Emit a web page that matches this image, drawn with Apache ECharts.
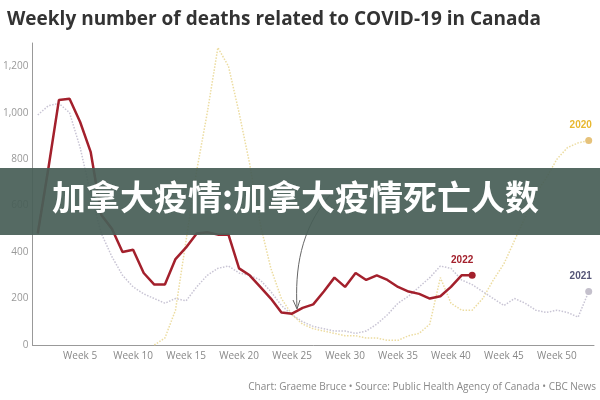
<!DOCTYPE html><html><head><meta charset="utf-8"><script src="https://cdn.jsdelivr.net/npm/echarts@6/dist/echarts.min.js"></script>
<style>html,body{margin:0;background:#fff}#c{width:600px;height:400px}</style></head><body><div id="c"></div><script>
const weeks = Array.from({length:53},(_, i)=>'Week '+(i+1));
const yTicks = [0,200,400,600,800,1000,1200];
const d2022 = [480,760,1055,1060,960,830,560,500,400,410,310,260,260,370,420,480,485,475,475,330,300,250,200,140,135,160,175,230,290,250,310,280,300,280,250,230,220,200,210,250,300,300];
const d2021 = [990,1030,1040,1000,850,650,480,380,300,250,220,200,180,200,190,250,300,330,340,310,300,280,230,170,130,100,80,70,60,60,50,60,90,130,180,210,250,290,340,330,280,260,230,200,170,200,180,150,140,150,140,120,230];
const d2020 = [null,null,null,null,null,null,null,null,null,null,null,0,30,150,450,750,1000,1280,1200,1000,780,520,330,200,130,90,70,60,50,40,40,30,30,20,20,40,50,90,290,180,150,150,200,280,350,450,550,650,720,800,850,870,880];
const ch=echarts.init(document.getElementById('c'));
ch.setOption({
 animation:false,
 title:{text:'Weekly number of deaths related to COVID-19 in Canada',left:2,top:5,textStyle:{fontSize:19,fontWeight:'bold',color:'#333',fontFamily:'Open Sans'}},
 grid:{left:30,right:6,top:43,bottom:55},
 xAxis:{type:'category',data:weeks,axisLine:{lineStyle:{color:'#999'}},axisTick:{show:false},
  axisLabel:{interval:(i)=>(i+1)%5===0,color:'#888',fontSize:10,fontFamily:'Open Sans',margin:6}},
 yAxis:{type:'value',min:0,max:1300,interval:200,splitLine:{show:false},axisLine:{show:true,lineStyle:{color:'#999'}},
  axisLabel:{showMaxLabel:false,color:'#999',fontSize:10,fontFamily:'Open Sans',margin:4,formatter:v=>yTicks.includes(v)?v.toLocaleString('en-US'):''}},
 series:[
  {type:'line',data:d2020,symbol:'none',lineStyle:{type:'dotted',width:1.5,color:'#ecdca0'},
   markPoint:{symbol:'circle',symbolSize:7,data:[{coord:[52,880]}],itemStyle:{color:'#e6c27a'},label:{show:true,position:'top',formatter:'2020',color:'#e8b830',fontWeight:'bold',fontSize:10,offset:[-8,-2]}}},
  {type:'line',data:d2021,symbol:'none',lineStyle:{type:'dotted',width:1.5,color:'#c8c4d4'},
   markPoint:{symbol:'circle',symbolSize:7,data:[{coord:[52,230]}],itemStyle:{color:'#c4c0cc'},label:{show:true,position:'top',formatter:'2021',color:'#555577',fontWeight:'bold',fontSize:10,offset:[-8,-2]}}},
  {type:'line',data:d2022,symbol:'none',lineStyle:{width:2.5,color:'#a3202c'},
   markPoint:{symbol:'circle',symbolSize:7,data:[{coord:[41,300]}],itemStyle:{color:'#a3202c'},label:{show:true,position:'top',formatter:'2022',color:'#a3202c',fontWeight:'bold',fontSize:10,offset:[-10,-2]}}}
 ],
 graphic:[
  {type:'bezierCurve',shape:{x1:330,y1:195,x2:297,y2:308,cpx1:300,cpy1:230,cpx2:295,cpy2:270},style:{stroke:'#666',lineWidth:1,fill:null},z:5},
  {type:'polyline',shape:{points:[[293,300],[297,309],[300,300]]},style:{stroke:'#666',lineWidth:1,fill:null},z:5},
  {type:'rect',shape:{x:0,y:168,width:600,height:67},style:{fill:'rgba(72,95,87,0.93)'},z:10},
  {type:'text',left:52,top:180,style:{text:'加拿大疫情:加拿大疫情死亡人数',fill:'#fff',font:'bold 34px "Noto Sans CJK SC"'},z:11},
  {type:'text',right:4,bottom:8,style:{text:'Chart: Graeme Bruce • Source: Public Health Agency of Canada • CBC News',fill:'#888',font:'10px "Open Sans"'}}
 ]
});
</script></body></html>
